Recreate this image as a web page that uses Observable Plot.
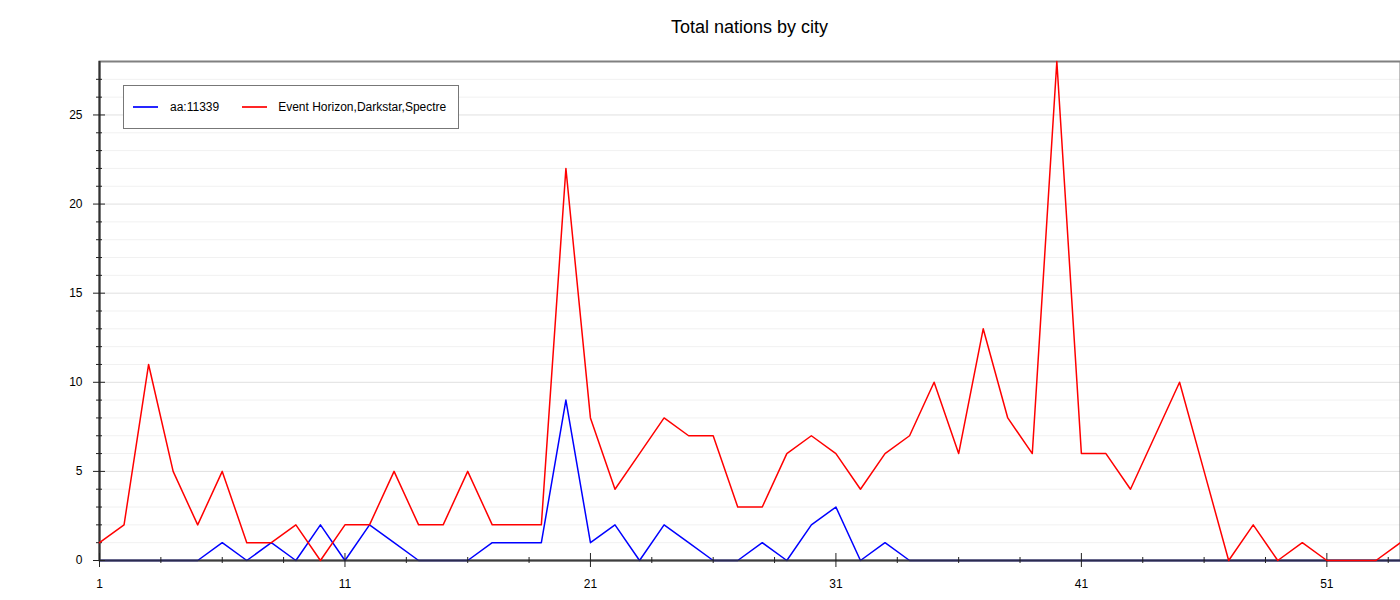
<!DOCTYPE html>
<html><head><meta charset="utf-8">
<script src="https://cdn.jsdelivr.net/npm/d3@7"></script>
<script src="https://cdn.jsdelivr.net/npm/@observablehq/plot@0.6"></script>
<style>
body{margin:0;background:#fff;font-family:"Liberation Sans",Arial,sans-serif;}
#wrap{position:relative;width:1400px;height:600px;}
#title{position:absolute;top:16px;left:99px;width:1301px;text-align:center;font-size:18px;line-height:22px;color:#000;}
#legend{position:absolute;left:123px;top:85px;width:334px;height:42px;border:1px solid #777;background:#fff;display:flex;align-items:center;font-size:12px;color:#000;}
.sw{width:25px;height:2px;}
</style></head>
<body>
<div id="wrap"><div id="chart"></div><div id="title"></div><div id="legend"></div></div>
<script>
const title = "Total nations by city";
const cities = [1,2,3,4,5,6,7,8,9,10,11,12,13,14,15,16,17,18,19,20,21,22,23,24,25,26,27,28,29,30,31,32,33,34,35,36,37,38,39,40,41,42,43,44,45,46,47,48,49,50,51,52,53,54];
const seriesNames = ["aa:11339", "Event Horizon,Darkstar,Spectre"];
const seriesColors = ["#0000ff", "#ff0000"];
const aaValues = [0,0,0,0,0,1,0,1,0,2,0,2,1,0,0,0,1,1,1,9,1,2,0,2,1,0,0,1,0,2,3,0,1,0,0,0,0,0,0,0,0,0,0,0,0,0,0,0,0,0,0,0,0,0];
const ehValues = [1,2,11,5,2,5,1,1,2,0,2,2,5,2,2,5,2,2,2,22,8,4,6,8,7,7,3,3,6,7,6,4,6,7,10,6,13,8,6,28,6,6,4,7,10,5,0,2,0,1,0,0,0,1];
const xMajorTicks = [1,11,21,31,41,51];
const xMinorTicks = [3.5,6,8.5,13.5,16,18.5,23.5,26,28.5,33.5,36,38.5,43.5,46,48.5,53.5];
const yMajorTicks = [0,5,10,15,20,25];
const yMinorTicks = [1,2,3,4,6,7,8,9,11,12,13,14,16,17,18,19,21,22,23,24,26,27];

const data = cities.map((c, i) => ({city: c, aa: aaValues[i], eh: ehValues[i]}));

document.getElementById("title").textContent = title;
const legend = document.getElementById("legend");
seriesNames.forEach((name, i) => {
  const sw = document.createElement("div");
  sw.className = "sw";
  sw.style.background = seriesColors[i];
  sw.style.opacity = "0.85";
  sw.style.marginLeft = i === 0 ? "9px" : "23px";
  const t = document.createElement("span");
  t.textContent = name;
  t.style.marginLeft = i === 0 ? "12px" : "11px";
  legend.appendChild(sw); legend.appendChild(t);
});

const plot = Plot.plot({
  width: 1400, height: 600,
  marginTop: 61, marginBottom: 40, marginLeft: 99, marginRight: 0,
  x: {domain: [1, 54], label: null},
  y: {domain: [0, 28], label: null},
  style: {fontFamily: "'Liberation Sans', Arial, sans-serif", fontSize: "12px", background: "transparent", color: "#000"},
  marks: [
    Plot.ruleY(yMinorTicks, {y: d => d, stroke: "#f1f1f1", strokeWidth: 1}),
    Plot.ruleY(yMajorTicks.filter(d => d > 0), {y: d => d, stroke: "#e0e0e0", strokeWidth: 1}),
    Plot.frame({stroke: "#808080", strokeWidth: 2}),
    Plot.line(data, {x: "city", y: "aa", stroke: seriesColors[0], strokeWidth: 1.5}),
    Plot.ruleY([0], {y: d => d, stroke: "#333", strokeWidth: 2, strokeOpacity: 0.85}),
    Plot.ruleX([1], {x: d => d, stroke: "#333", strokeWidth: 2}),
    Plot.ruleX(xMajorTicks, {x: d => d, y1: () => 0, y2: () => 0, insetTop: -7, insetBottom: -7, stroke: "#222"}),
    Plot.ruleX(xMinorTicks, {x: d => d, y1: () => 0, y2: () => 0, insetTop: -3, insetBottom: -3, stroke: "#222"}),
    Plot.ruleY(yMajorTicks, {y: d => d, x1: () => 1, x2: () => 1, insetLeft: -6, insetRight: -6, stroke: "#222"}),
    Plot.ruleY(yMinorTicks, {y: d => d, x1: () => 1, x2: () => 1, insetLeft: -3, insetRight: -3, stroke: "#222"}),
    Plot.line(data, {x: "city", y: "eh", stroke: seriesColors[1], strokeWidth: 1.5}),
    Plot.axisX({ticks: xMajorTicks, tickSize: 0, tickPadding: 19, tickFormat: d => String(d), label: null}),
    Plot.axisY({ticks: yMajorTicks, tickSize: 0, tickPadding: 17, tickFormat: d => String(d), label: null})
  ]
});
document.getElementById("chart").appendChild(plot);
</script>
</body></html>
